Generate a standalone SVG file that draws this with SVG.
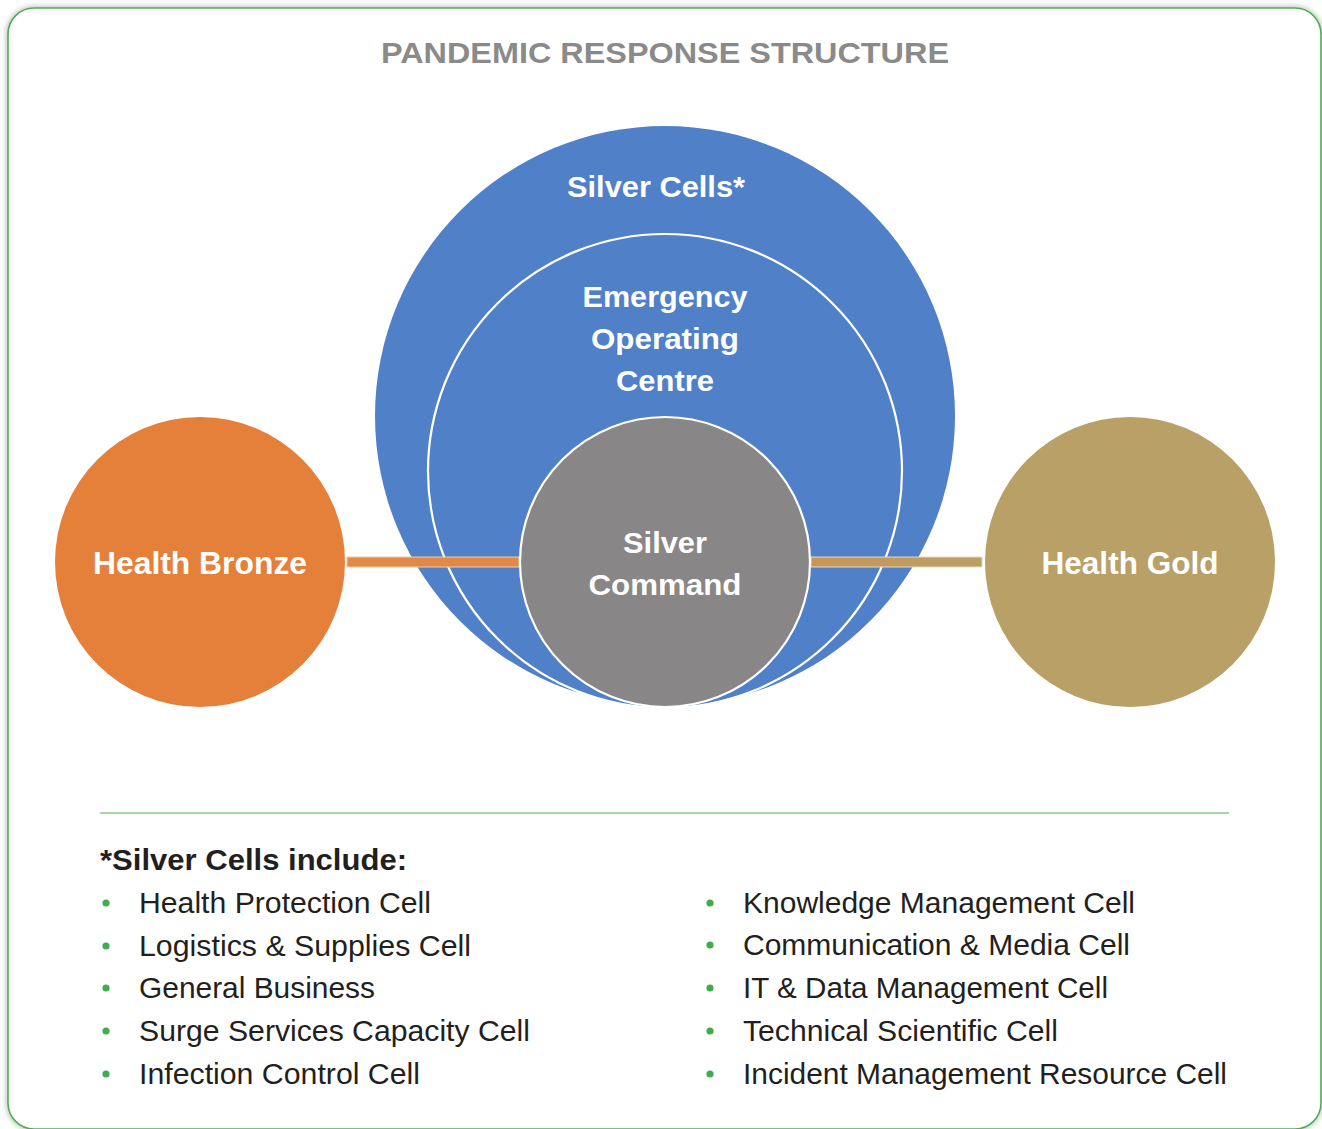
<svg xmlns="http://www.w3.org/2000/svg" width="1322" height="1129" viewBox="0 0 1322 1129">
<defs>
<filter id="sh" x="-5%" y="-5%" width="110%" height="110%">
<feGaussianBlur in="SourceAlpha" stdDeviation="3"/>
<feOffset dx="0" dy="0"/>
<feComponentTransfer><feFuncA type="linear" slope="0.35"/></feComponentTransfer>
<feMerge><feMergeNode/><feMergeNode in="SourceGraphic"/></feMerge>
</filter>
<linearGradient id="gg" x1="0" y1="0" x2="1" y2="0">
<stop offset="0" stop-color="#C9965A"/>
<stop offset="1" stop-color="#B8A066"/>
</linearGradient>
</defs>
<style>
.w{fill:#fff;font-family:"Liberation Sans",Arial,sans-serif;font-weight:bold;text-anchor:middle}
.b{fill:#231F20;font-family:"Liberation Sans",Arial,sans-serif;font-size:29px}
.dot{fill:#3DAE4A}
</style>
<rect x="8" y="8" width="1313" height="1121" rx="26" ry="26" fill="#fff" stroke="#4CAF50" stroke-width="1.6" filter="url(#sh)"/>
<text x="665" y="63" font-family="Liberation Sans,Arial,sans-serif" font-weight="bold" font-size="30" fill="#8A8A8A" text-anchor="middle" textLength="568" lengthAdjust="spacingAndGlyphs">PANDEMIC RESPONSE STRUCTURE</text>

<g id="silver-cells">
<circle cx="665" cy="416" r="290" fill="#5080C8"/>
<text class="w" x="656" y="197" font-size="30" textLength="178" lengthAdjust="spacingAndGlyphs">Silver Cells*</text>
</g>
<g id="eoc">
<circle cx="665" cy="471" r="237" fill="#5080C8" stroke="#fff" stroke-width="2.2"/>
<text class="w" x="665" y="307" font-size="30" textLength="165" lengthAdjust="spacingAndGlyphs">Emergency</text>
<text class="w" x="665" y="349" font-size="30" textLength="148" lengthAdjust="spacingAndGlyphs">Operating</text>
<text class="w" x="665" y="391" font-size="30" textLength="98" lengthAdjust="spacingAndGlyphs">Centre</text>
</g>

<g id="connectors">
<rect x="347" y="557" width="172" height="10" fill="#E08A48" stroke="#F2C9A8" stroke-width="1"/>
<rect x="811" y="557" width="171" height="10" fill="url(#gg)" stroke="#E6D9BE" stroke-width="1"/>
</g>

<g id="silver-command">
<circle cx="665" cy="562" r="145" fill="#888687" stroke="#fff" stroke-width="2.2"/>
<text class="w" x="665" y="553" font-size="30" textLength="84" lengthAdjust="spacingAndGlyphs">Silver</text>
<text class="w" x="665" y="595" font-size="30" textLength="153" lengthAdjust="spacingAndGlyphs">Command</text>
</g>
<g id="health-bronze">
<circle cx="200" cy="562" r="145" fill="#E5803B"/>
<text class="w" x="200" y="574" font-size="31.5" textLength="214" lengthAdjust="spacingAndGlyphs">Health Bronze</text>
</g>
<g id="health-gold">
<circle cx="1130" cy="562" r="145" fill="#B8A066"/>
<text class="w" x="1130" y="574" font-size="31.5" textLength="177" lengthAdjust="spacingAndGlyphs">Health Gold</text>
</g>

<line x1="100" y1="813" x2="1229" y2="813" stroke="#4CAF50" stroke-width="1.2"/>
<text x="100" y="870" font-family="Liberation Sans,Arial,sans-serif" font-weight="bold" font-size="29" fill="#231F20" textLength="307" lengthAdjust="spacingAndGlyphs">*Silver Cells include:</text>

<g id="list">
<circle class="dot" cx="106" cy="903" r="3.6"/>
<text class="b" x="139" y="913" textLength="292" lengthAdjust="spacingAndGlyphs">Health Protection Cell</text>
<circle class="dot" cx="106" cy="946" r="3.6"/>
<text class="b" x="139" y="956" textLength="332" lengthAdjust="spacingAndGlyphs">Logistics &amp; Supplies Cell</text>
<circle class="dot" cx="106" cy="988" r="3.6"/>
<text class="b" x="139" y="998" textLength="236" lengthAdjust="spacingAndGlyphs">General Business</text>
<circle class="dot" cx="106" cy="1031" r="3.6"/>
<text class="b" x="139" y="1041" textLength="391" lengthAdjust="spacingAndGlyphs">Surge Services Capacity Cell</text>
<circle class="dot" cx="106" cy="1074" r="3.6"/>
<text class="b" x="139" y="1084" textLength="281" lengthAdjust="spacingAndGlyphs">Infection Control Cell</text>

<circle class="dot" cx="710" cy="903" r="3.6"/>
<text class="b" x="743" y="913" textLength="392" lengthAdjust="spacingAndGlyphs">Knowledge Management Cell</text>
<circle class="dot" cx="710" cy="945" r="3.6"/>
<text class="b" x="743" y="955" textLength="387" lengthAdjust="spacingAndGlyphs">Communication &amp; Media Cell</text>
<circle class="dot" cx="710" cy="988" r="3.6"/>
<text class="b" x="743" y="998" textLength="365" lengthAdjust="spacingAndGlyphs">IT &amp; Data Management Cell</text>
<circle class="dot" cx="710" cy="1031" r="3.6"/>
<text class="b" x="743" y="1041" textLength="315" lengthAdjust="spacingAndGlyphs">Technical Scientific Cell</text>
<circle class="dot" cx="710" cy="1074" r="3.6"/>
<text class="b" x="743" y="1084" textLength="484" lengthAdjust="spacingAndGlyphs">Incident Management Resource Cell</text>
</g>
</svg>
